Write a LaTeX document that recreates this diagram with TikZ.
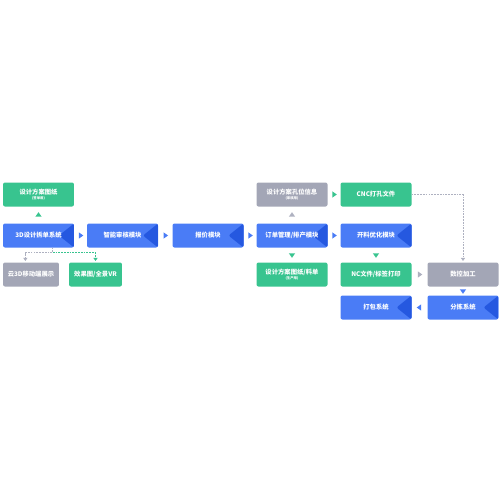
\documentclass[tikz,border=0pt]{standalone}
\usepackage{fontspec}
\usetikzlibrary{arrows.meta,positioning,shapes.geometric,calc}
\newfontfamily\cjk{Noto Sans CJK SC}
\definecolor{Blue}{HTML}{4A7CF6}
\definecolor{DarkBlue}{HTML}{2558E0}
\definecolor{Green}{HTML}{38C48F}
\definecolor{Gray}{HTML}{A3A6B6}
\definecolor{LineGray}{HTML}{AEB1C0}
\newcommand{\usenote}[1]{\\[-2pt]{\fontsize{4.8}{5}\selectfont #1}}

\begin{document}
\begin{tikzpicture}[x=0.05cm,y=-0.05cm,
  box/.style={rounded corners=0.1cm,minimum width=3.55cm,minimum height=1.2cm,inner sep=1pt,
    text=white,align=center,font=\cjk\bfseries\fontsize{9}{10}\selectfont},
  bluebox/.style={box,fill=Blue,path picture={
    \fill[DarkBlue] (path picture bounding box.north east)
      -- ($(path picture bounding box.east)+(-15,0)$)
      -- (path picture bounding box.south east) -- cycle;}},
  greenbox/.style={box,fill=Green},
  graybox/.style={box,fill=Gray},
  flowmark/.style={isosceles triangle,isosceles triangle apex angle=70,inner sep=0pt,
    minimum size=0.22cm,fill,draw=none,sloped,allow upside down,midway},
  dashline/.style={line width=0.8pt,dash pattern=on 2.5pt off 1.5pt,
    -{Triangle[width=6pt,length=4.5pt]},shorten >=2pt}]
  \useasboundingbox (0,0) rectangle (500,500);

  % row of main modules
  \node[bluebox] (sys) at (38.5,235.5) {3D设计拆单系统};
  \node[bluebox] (audit) at (122.5,235.5) {智能审核模块};
  \node[bluebox] (quote) at (208,235.5) {报价模块};
  \node[bluebox] (order) at (292,235.5) {订单管理/排产模块};
  \node[bluebox] (cut) at (376,235.5) {开料优化模块};

  % top row
  \node[greenbox] (plan) at (38.5,194.5) {设计方案图纸\usenote{(签单用)}};
  \node[graybox] (hole) at (292,194.5) {设计方案孔位信息\usenote{(审核用)}};
  \node[greenbox] (cnc) at (376,194.5) {CNC打孔文件};

  % lower rows
  \node[graybox,minimum width=2.8cm] (yun) at (31,274.5) {云3D移动端展示};
  \node[greenbox,minimum width=2.65cm] (vr) at (95.5,274.5) {效果图/全景VR};
  \node[greenbox] (prod) at (292,274.5) {设计方案图纸/料单\usenote{(生产用)}};
  \node[greenbox] (nc) at (376,274.5) {NC文件/标签打印};
  \node[graybox] (sk) at (463,274.5) {数控加工};
  \node[bluebox] (pack) at (376,307.5) {打包系统};
  \node[bluebox] (sort) at (463,307.5) {分拣系统};

  % flow markers
  \path (sys.east) -- node[flowmark,Blue]{} (audit.west);
  \path (audit.east) -- node[flowmark,Blue]{} (quote.west);
  \path (quote.east) -- node[flowmark,Blue]{} (order.west);
  \path (order.east) -- node[flowmark,Blue]{} (cut.west);
  \path (sys.north) -- node[flowmark,Green]{} (plan.south);
  \path (order.north) -- node[flowmark,LineGray]{} (hole.south);
  \path (order.south) -- node[flowmark,Green]{} (prod.north);
  \path (cut.south) -- node[flowmark,Green]{} (nc.north);
  \path (hole.east) -- node[flowmark,Green]{} (cnc.west);
  \path (nc.east) -- node[flowmark,LineGray]{} (sk.west);
  \path (sk.south) -- node[flowmark,Blue]{} (sort.north);
  \path (sort.west) -- node[flowmark,Blue]{} (pack.east);

  % dashed links
  \coordinate (sysfoot) at ($(sys.south west)!0.7!(sys.south east)$);
  \coordinate (split) at ($(sysfoot)+(0,5)$);
  \coordinate (yunhead) at ($(yun.north west)!0.4!(yun.north east)$);
  \draw[dashline,LineGray] (sysfoot) -- (split) -| (yunhead);
  \draw[dashline,Green] (split) -| (vr.north);
  \draw[dashline,LineGray] (cnc.east) -| (sk.north);
\end{tikzpicture}
\end{document}
